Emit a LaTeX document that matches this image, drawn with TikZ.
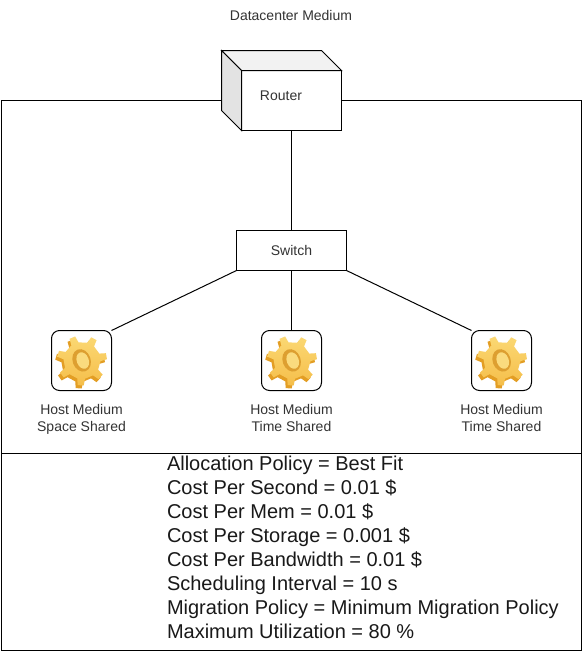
\documentclass[tikz,border=0pt]{standalone}
\usepackage{fontspec}
\setmainfont{Liberation Sans}
\definecolor{gearlight}{HTML}{FBD873}
\definecolor{gearmid}{HTML}{F5BE4A}
\definecolor{geardark}{HTML}{E39E24}
\definecolor{gearhollow}{HTML}{DD9F30}
\definecolor{gearcore}{HTML}{FADB7E}
\newcommand{\gearpath}{(-24:18.5) foreach \a in {-10,41.4,92.9,144.3,195.7,247.1,298.6} {-- ({\a-12}:18.5) -- ({\a-7}:25) -- ({\a+7}:25) -- ({\a+12}:18.5)} -- cycle}
\newcommand{\gear}[2]{%
\begin{scope}[shift={(#1,#2)}]
\fill[geardark,shift={(-1.5,2)}] \gearpath;
\path[top color=gearlight,bottom color=gearmid,shift={(0.5,-1)}] \gearpath;
\fill[gearhollow,rotate=20] (0.5,-1) ellipse (9 and 11.5);
\fill[gearcore,rotate=20] (1.5,-0.5) ellipse (6 and 8.5);
\end{scope}}
\tikzset{
 line/.style={draw=black,line width=0.75pt},
 hostbox/.style={line,rounded corners=6pt,minimum width=45pt,minimum height=45pt},
 cap9/.style={font=\fontsize{10.5}{12.75}\selectfont,text=black!80,align=center},
}
\begin{document}
\begin{tikzpicture}[x=0.75pt,y=-0.75pt,inner sep=0,outer sep=0]
\useasboundingbox (0,0) rectangle (584,651);
\fill[white] (0,0) rectangle (584,651);
\node[cap9] (title) at (291,15) {Datacenter Medium};
\node[line,minimum width=435pt,minimum height=265.1pt,anchor=north west] (upper) at (1,100) {};
\node[line,minimum width=435pt,minimum height=147.4pt,anchor=north west] (lower) at (1,453.5) {};
\node[line,fill=white,minimum width=75pt,minimum height=45pt,anchor=north west] (router) at (241.5,70.5) {};
\draw[line,fill=black!5] (221.5,50.5)--(321.5,50.5)--(router.north east)--(router.north west)--cycle;
\draw[line,fill=black!11] (221.5,50.5)--(router.north west)--(router.south west)--(221.5,110.5)--cycle;
\node[cap9] (routerlabel) at (281,95.5) {Router};
\node[line,fill=white,minimum width=82.5pt,minimum height=30pt,anchor=north west,text=black!80,font=\fontsize{10.5}{12.75}\selectfont] (switch) at (236.5,230.5) {Switch};
\node[hostbox,anchor=north west] (h1) at (51.5,330.5) {};
\node[hostbox,anchor=north west] (h2) at (261.5,330.5) {};
\node[hostbox,anchor=north west] (h3) at (471.5,330.5) {};
\gear{81.5}{361.5}\gear{291.5}{361.5}\gear{501.5}{361.5}
\node[cap9] (t1) at (81.5,419.5) {Host Medium\\Space Shared};
\node[cap9] (t2) at (291.5,417.5) {Host Medium\\Time Shared};
\node[cap9] (t3) at (501.5,417.5) {Host Medium\\Time Shared};
\draw[line] (router.south) -- (switch.north);
\draw[line] (switch.south west) -- (h1.north east);
\draw[line] (switch.south) -- (h2.north);
\draw[line] (switch.south east) -- (h3.north west);
\node[anchor=north west,align=left,font=\fontsize{15}{18}\selectfont,text=black!90] (policy) at (167,456) {Allocation Policy = Best Fit\\Cost Per Second = 0.01 \$\\Cost Per Mem = 0.01 \$\\Cost Per Storage = 0.001 \$\\Cost Per Bandwidth = 0.01 \$\\Scheduling Interval = 10 s\\Migration Policy = Minimum Migration Policy\\Maximum Utilization = 80 \%};
\end{tikzpicture}
\end{document}
